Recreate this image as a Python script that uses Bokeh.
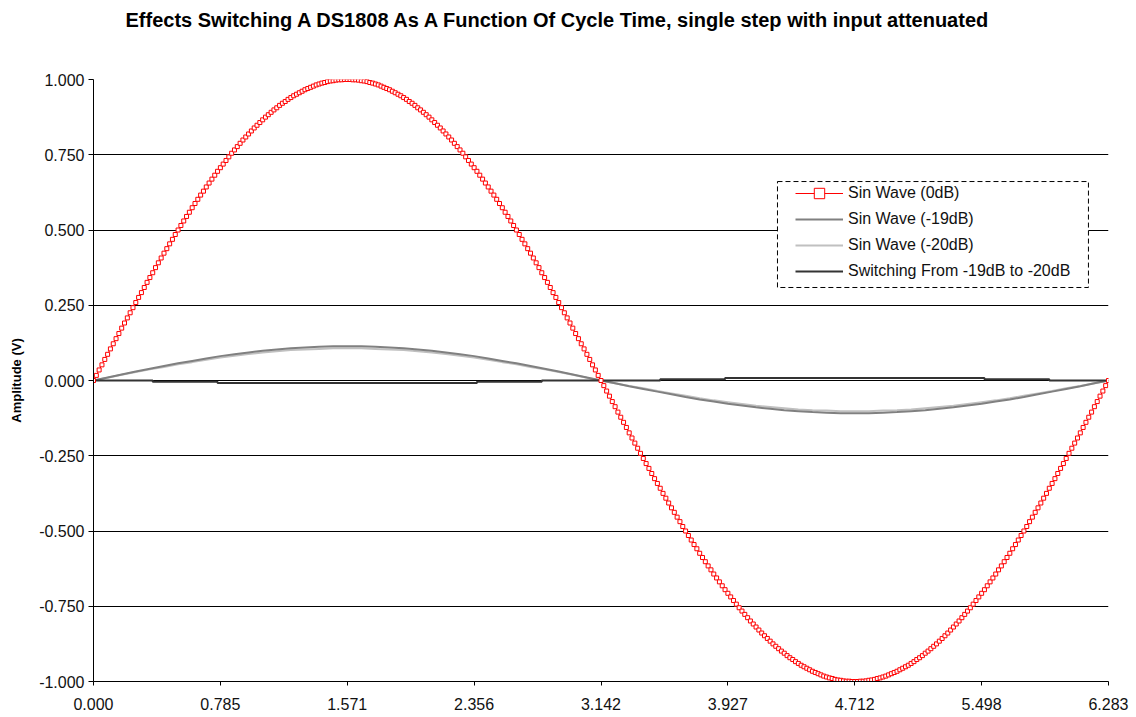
import numpy as np
from bokeh.plotting import figure
from bokeh.models import (FixedTicker, NumeralTickFormatter, Legend, LegendItem,
                          BoxAnnotation, Range1d, Title)
from bokeh.embed import file_html
from bokeh.resources import INLINE

# ---------------- data ----------------
# Sin wave (0dB), sampled every 1 degree over one cycle (0..360 deg)
sin_0db = [
    0.000, 0.017, 0.035, 0.052, 0.070, 0.087, 0.105, 0.122, 0.139, 0.156, 0.174, 0.191, 0.208, 0.225, 0.242, 0.259,
    0.276, 0.292, 0.309, 0.326, 0.342, 0.358, 0.375, 0.391, 0.407, 0.423, 0.438, 0.454, 0.469, 0.485, 0.500, 0.515,
    0.530, 0.545, 0.559, 0.574, 0.588, 0.602, 0.616, 0.629, 0.643, 0.656, 0.669, 0.682, 0.695, 0.707, 0.719, 0.731,
    0.743, 0.755, 0.766, 0.777, 0.788, 0.799, 0.809, 0.819, 0.829, 0.839, 0.848, 0.857, 0.866, 0.875, 0.883, 0.891,
    0.899, 0.906, 0.914, 0.921, 0.927, 0.934, 0.940, 0.946, 0.951, 0.956, 0.961, 0.966, 0.970, 0.974, 0.978, 0.982,
    0.985, 0.988, 0.990, 0.993, 0.995, 0.996, 0.998, 0.999, 0.999, 1.000, 1.000,
    1.000, 0.999, 0.999, 0.998, 0.996, 0.995, 0.993, 0.990, 0.988, 0.985, 0.982, 0.978, 0.974, 0.970, 0.966, 0.961,
    0.956, 0.951, 0.946, 0.940, 0.934, 0.927, 0.921, 0.914, 0.906, 0.899, 0.891, 0.883, 0.875, 0.866, 0.857, 0.848,
    0.839, 0.829, 0.819, 0.809, 0.799, 0.788, 0.777, 0.766, 0.755, 0.743, 0.731, 0.719, 0.707, 0.695, 0.682, 0.669,
    0.656, 0.643, 0.629, 0.616, 0.602, 0.588, 0.574, 0.559, 0.545, 0.530, 0.515, 0.500, 0.485, 0.469, 0.454, 0.438,
    0.423, 0.407, 0.391, 0.375, 0.358, 0.342, 0.326, 0.309, 0.292, 0.276, 0.259, 0.242, 0.225, 0.208, 0.191, 0.174,
    0.156, 0.139, 0.122, 0.105, 0.087, 0.070, 0.052, 0.035, 0.017, 0.000,
    -0.017, -0.035, -0.052, -0.070, -0.087, -0.105, -0.122, -0.139, -0.156, -0.174, -0.191, -0.208, -0.225, -0.242,
    -0.259, -0.276, -0.292, -0.309, -0.326, -0.342, -0.358, -0.375, -0.391, -0.407, -0.423, -0.438, -0.454, -0.469,
    -0.485, -0.500, -0.515, -0.530, -0.545, -0.559, -0.574, -0.588, -0.602, -0.616, -0.629, -0.643, -0.656, -0.669,
    -0.682, -0.695, -0.707, -0.719, -0.731, -0.743, -0.755, -0.766, -0.777, -0.788, -0.799, -0.809, -0.819, -0.829,
    -0.839, -0.848, -0.857, -0.866, -0.875, -0.883, -0.891, -0.899, -0.906, -0.914, -0.921, -0.927, -0.934, -0.940,
    -0.946, -0.951, -0.956, -0.961, -0.966, -0.970, -0.974, -0.978, -0.982, -0.985, -0.988, -0.990, -0.993, -0.995,
    -0.996, -0.998, -0.999, -0.999, -1.000, -1.000,
    -1.000, -0.999, -0.999, -0.998, -0.996, -0.995, -0.993, -0.990, -0.988, -0.985, -0.982, -0.978, -0.974, -0.970,
    -0.966, -0.961, -0.956, -0.951, -0.946, -0.940, -0.934, -0.927, -0.921, -0.914, -0.906, -0.899, -0.891, -0.883,
    -0.875, -0.866, -0.857, -0.848, -0.839, -0.829, -0.819, -0.809, -0.799, -0.788, -0.777, -0.766, -0.755, -0.743,
    -0.731, -0.719, -0.707, -0.695, -0.682, -0.669, -0.656, -0.643, -0.629, -0.616, -0.602, -0.588, -0.574, -0.559,
    -0.545, -0.530, -0.515, -0.500, -0.485, -0.469, -0.454, -0.438, -0.423, -0.407, -0.391, -0.375, -0.358, -0.342,
    -0.326, -0.309, -0.292, -0.276, -0.259, -0.242, -0.225, -0.208, -0.191, -0.174, -0.156, -0.139, -0.122, -0.105,
    -0.087, -0.070, -0.052, -0.035, -0.017, 0.000,
]
fine_step_deg = 1

# Sin wave (-19dB) and (-20dB), sampled every 5 degrees (0..360 deg)
sin_m19db = [
    0.000, 0.010, 0.020, 0.030, 0.039, 0.048, 0.057, 0.065, 0.073, 0.081, 0.087, 0.093, 0.099, 0.103, 0.107, 0.110,
    0.112, 0.114, 0.114, 0.114, 0.112, 0.110, 0.107, 0.103, 0.099, 0.093, 0.087, 0.081, 0.073, 0.065, 0.057, 0.048,
    0.039, 0.030, 0.020, 0.010, 0.000,
    -0.009, -0.019, -0.028, -0.037, -0.046, -0.055, -0.063, -0.070, -0.077, -0.083, -0.089, -0.094, -0.099, -0.102,
    -0.105, -0.107, -0.109, -0.109, -0.109, -0.107, -0.105, -0.102, -0.099, -0.094, -0.089, -0.083, -0.077, -0.070,
    -0.063, -0.055, -0.046, -0.037, -0.028, -0.019, -0.009, 0.000,
]
sin_m20db = [
    0.000, 0.009, 0.019, 0.028, 0.037, 0.045, 0.054, 0.061, 0.069, 0.076, 0.082, 0.088, 0.093, 0.097, 0.101, 0.103,
    0.105, 0.107, 0.107, 0.107, 0.105, 0.103, 0.101, 0.097, 0.093, 0.088, 0.082, 0.076, 0.069, 0.061, 0.054, 0.045,
    0.037, 0.028, 0.019, 0.009, 0.000,
    -0.009, -0.018, -0.026, -0.035, -0.043, -0.051, -0.059, -0.066, -0.072, -0.078, -0.084, -0.088, -0.092, -0.096,
    -0.099, -0.100, -0.102, -0.102, -0.102, -0.100, -0.099, -0.096, -0.092, -0.088, -0.084, -0.078, -0.072, -0.066,
    -0.059, -0.051, -0.043, -0.035, -0.026, -0.018, -0.009, 0.000,
]
coarse_step_deg = 5

# Switching From -19dB to -20dB: stepped levels, breakpoints in degrees
switch_deg = [0, 21, 44, 136, 159, 201, 224, 316, 339, 360]
switch_val = [0.000, -0.004, -0.008, -0.004, 0.000, 0.004, 0.008, 0.004, 0.000, 0.000]

series_names = ["Sin Wave (0dB)", "Sin Wave (-19dB)", "Sin Wave (-20dB)", "Switching From -19dB to -20dB"]
x_tick_labels = ["0.000", "0.785", "1.571", "2.356", "3.142", "3.927", "4.712", "5.498", "6.283"]
y_tick_values = [-1.0, -0.75, -0.5, -0.25, 0.0, 0.25, 0.5, 0.75, 1.0]

title_text = "Effects Switching A DS1808 As A Function Of Cycle Time, single step with input attenuated"
y_label = "Amplitude (V)"

# ---------------- derived x coordinates (radians) ----------------
x_fine = np.radians(np.arange(len(sin_0db)) * fine_step_deg)
x_coarse = np.radians(np.arange(len(sin_m19db)) * coarse_step_deg)
x_switch = np.radians(switch_deg)
x_tick_pos = [i * np.pi / 4 for i in range(len(x_tick_labels))]

FONT = "Liberation Sans"
TXT = "#111111"

p = figure(width=1132, height=716, output_backend="svg", toolbar_location=None,
           x_range=Range1d(0, 2 * np.pi), y_range=Range1d(-1, 1),
           min_border_left=93, min_border_right=24, min_border_top=79, min_border_bottom=35)

# spacer between frame and title (pushes the title to the top of the page)
p.add_layout(Title(text=" ", text_font_size="29px"), "above")

p.title.text = title_text
p.title.text_font = FONT
p.title.text_font_size = "20px"
p.title.text_font_style = "bold"
p.title.text_color = "black"
p.title.align = "left"
p.title.offset = 32

p.outline_line_color = None
p.background_fill_color = "white"
p.border_fill_color = "white"

# grids
p.xgrid.grid_line_color = None
p.ygrid.ticker = FixedTicker(ticks=y_tick_values)
p.ygrid.grid_line_color = "black"
p.ygrid.grid_line_width = 1

# x axis
p.xaxis.ticker = FixedTicker(ticks=x_tick_pos)
p.xaxis.major_label_overrides = {t: lab for t, lab in zip(x_tick_pos, x_tick_labels)}
p.xaxis.major_tick_out = 4
p.xaxis.major_tick_in = 0
p.xaxis.minor_tick_line_color = None
p.xaxis.axis_line_color = "black"
p.xaxis.major_tick_line_color = "black"
p.xaxis.major_label_text_font = FONT
p.xaxis.major_label_text_font_size = "16px"
p.xaxis.major_label_text_color = TXT
p.xaxis.major_label_standoff = 12

# y axis
p.yaxis.ticker = FixedTicker(ticks=y_tick_values)
p.yaxis.formatter = NumeralTickFormatter(format="0.000")
p.yaxis.major_tick_out = 5
p.yaxis.major_tick_in = 0
p.yaxis.minor_tick_line_color = None
p.yaxis.axis_line_color = "black"
p.yaxis.major_tick_line_color = "black"
p.yaxis.major_label_text_font = FONT
p.yaxis.major_label_text_font_size = "16px"
p.yaxis.major_label_text_color = TXT
p.yaxis.major_label_standoff = 4
p.yaxis.axis_label = y_label
p.yaxis.axis_label_text_font = FONT
p.yaxis.axis_label_text_font_size = "13px"
p.yaxis.axis_label_text_font_style = "bold"
p.yaxis.axis_label_text_color = "black"
p.yaxis.axis_label_standoff = 12

# series
r20 = p.line(x_coarse, sin_m20db, line_color="#C0C0C0", line_width=2)
r19 = p.line(x_coarse, sin_m19db, line_color="#808080", line_width=2)
rsw = p.step(x_switch, switch_val, mode="after", line_color="#333333", line_width=2)
r0l = p.line(x_fine, sin_0db, line_color="#FF0000", line_width=1)
r0m = p.scatter(x_fine, sin_0db, marker="square", size=4, line_color="#FF0000",
                fill_color="white", line_width=1)

# legend frame (white box with dashed border)
box = BoxAnnotation(left=4.234, right=6.159, top=0.661, bottom=0.309,
                    fill_color="white", fill_alpha=1.0,
                    line_color="black", line_alpha=1.0, line_width=1, line_dash="5 3")
p.add_layout(box)

legend = Legend(items=[
    LegendItem(label=series_names[0], renderers=[r0l, r0m]),
    LegendItem(label=series_names[1], renderers=[r19]),
    LegendItem(label=series_names[2], renderers=[r20]),
    LegendItem(label=series_names[3], renderers=[rsw]),
], location=(702, 397), padding=0, spacing=0, margin=0,
    glyph_width=48, glyph_height=26, label_height=26, label_standoff=5,
    label_text_font=FONT, label_text_font_size="16px", label_text_color=TXT,
    border_line_color=None, background_fill_alpha=0.0)
p.add_layout(legend)

open("out.html", "w").write(file_html(p, INLINE))
